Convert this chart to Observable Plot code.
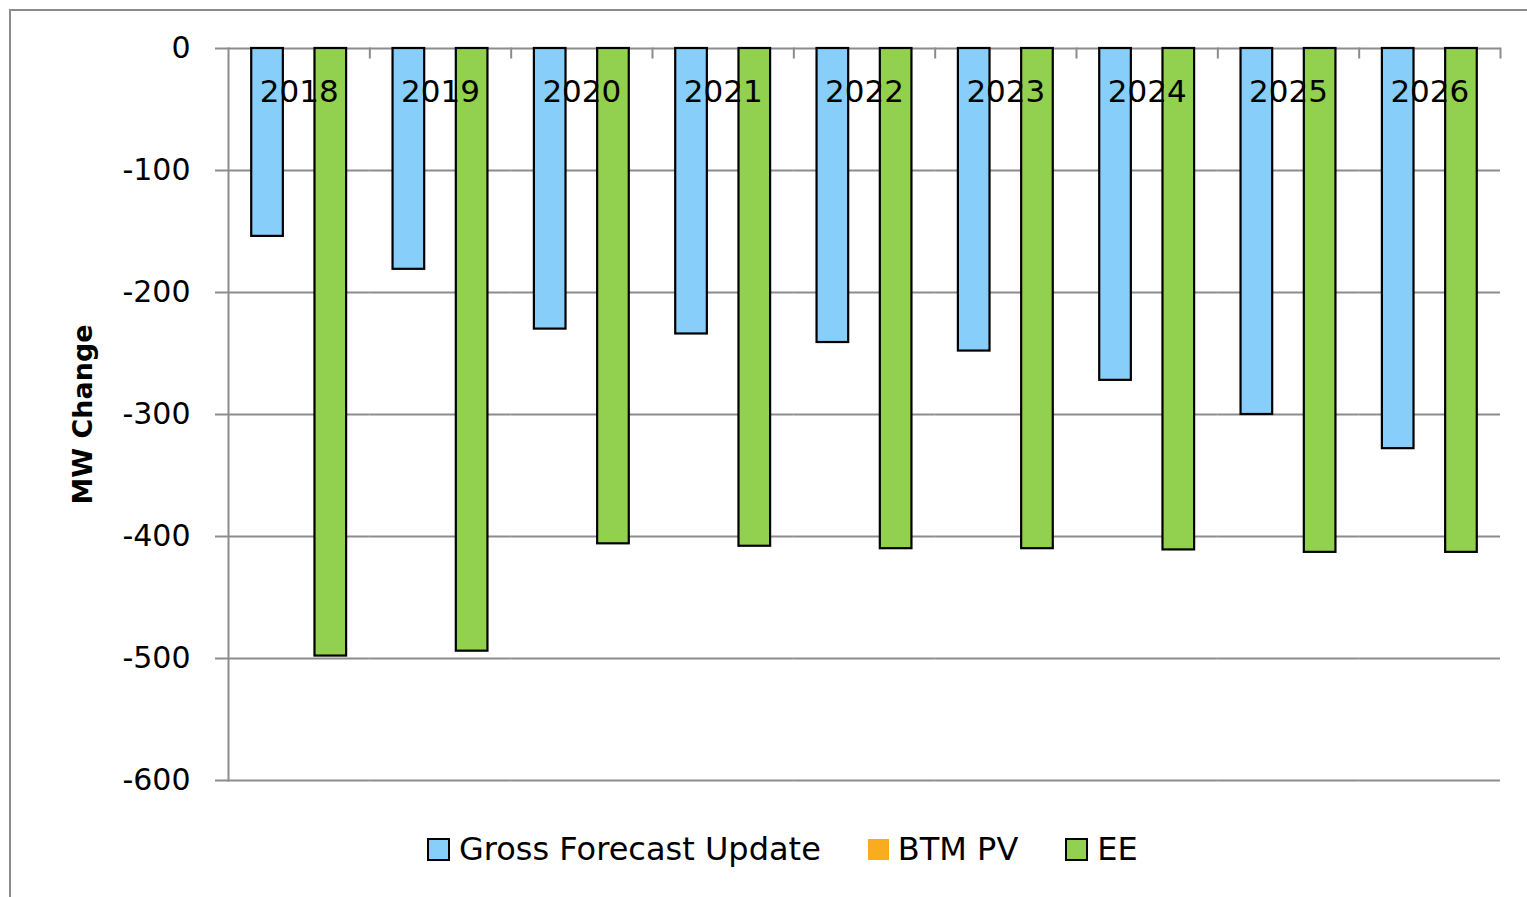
<!DOCTYPE html>
<html>
<head>
<meta charset="utf-8">
<script src="https://cdn.jsdelivr.net/npm/d3@7"></script>
<script src="https://cdn.jsdelivr.net/npm/@observablehq/plot@0.6"></script>
<style>
  html, body { margin: 0; padding: 0; background: #fff; overflow: hidden; }
  #wrap { position: relative; width: 1527px; height: 897px; }
  #chart { position: absolute; left: 0; top: 0; }
  #border { position: absolute; left: 9px; top: 9px; width: 1700px; height: 1100px;
            border: 2px solid #8c8c8c; box-sizing: border-box; pointer-events: none; }
  #legend { position: absolute; left: 427px; top: 830px; display: flex; align-items: center;
            font-family: "DejaVu Sans", sans-serif; font-size: 32px; color: #000; }
  .item { display: flex; align-items: center; margin-right: 47px; }
  .sw { width: 19px; height: 19px; margin-right: 9px; box-sizing: content-box; }
</style>
</head>
<body>
<div id="wrap">
  <div id="chart"></div>
  <div id="legend"></div>
  <div id="border"></div>
</div>
<script>
// ---- data ----
const years = ["2018", "2019", "2020", "2021", "2022", "2023", "2024", "2025", "2026"];
const series = ["Gross Forecast Update", "BTM PV", "EE"];
const grossForecastUpdate = [-154, -181, -230, -234, -241, -248, -272, -300, -328];
const btmPv = [0, 0, 0, 0, 0, 0, 0, 0, 0];
const ee = [-498, -494, -406, -408, -410, -410, -411, -413, -413];
const yTicks = [0, -100, -200, -300, -400, -500, -600];
const colors = ["#87CEFA", "#F9AC1D", "#92D050"];

const valuesBySeries = [grossForecastUpdate, btmPv, ee];
const rows = [];
years.forEach((y, i) => {
  series.forEach((s, k) => rows.push({year: y, series: s, value: valuesBySeries[k][i]}));
});

const gray = "#8c8c8c";
const chart = Plot.plot({
  width: 1527,
  height: 897,
  marginLeft: 228,
  marginRight: 27,
  marginTop: 48,
  marginBottom: 117,
  style: {fontFamily: "DejaVu Sans, sans-serif", background: "transparent", color: "#000"},
  fx: {domain: years, padding: 0, round: false, axis: null},
  x: {domain: series, paddingInner: 0, paddingOuter: 0.734, round: false, axis: null},
  y: {domain: [-600, 0], axis: null},
  color: {domain: series, range: colors},
  marks: [
    Plot.gridY(yTicks, {stroke: gray, strokeOpacity: 1, strokeWidth: 2}),
    Plot.frame({anchor: "left", facetAnchor: "left", stroke: gray, strokeWidth: 2}),
    Plot.frame({anchor: "right", stroke: gray, strokeWidth: 2, insetBottom: 723}),
    Plot.axisY({
      ticks: yTicks, tickSize: 13, tickPadding: 25, stroke: gray, strokeWidth: 2,
      tickFormat: d => String(d), fontSize: 30, fill: "#000", label: null
    }),
    Plot.axisY({
      ticks: [], tickSize: 0, label: "MW Change", labelAnchor: "center", labelArrow: "none",
      labelOffset: 156, fontSize: 27, fontWeight: "bold", fill: "#000"
    }),
    Plot.barY(rows, {
      fx: "year", x: "series", y: "value", fill: "series",
      stroke: "#000", strokeWidth: 2.2
    }),
    Plot.text(years, {
      fx: d => d, text: d => d, frameAnchor: "top", lineAnchor: "middle", dy: 44,
      fontSize: 31, fill: "#000"
    })
  ]
});
document.getElementById("chart").appendChild(chart);

// legend
const legend = document.getElementById("legend");
series.forEach((s, k) => {
  const item = document.createElement("div");
  item.className = "item";
  const sw = document.createElement("span");
  sw.className = "sw";
  sw.style.background = colors[k];
  if (s !== "BTM PV") sw.style.border = "2px solid #000";
  else { sw.style.width = "21px"; sw.style.height = "21px"; }
  const t = document.createElement("span");
  t.textContent = s;
  item.appendChild(sw);
  item.appendChild(t);
  legend.appendChild(item);
});
</script>
</body>
</html>
